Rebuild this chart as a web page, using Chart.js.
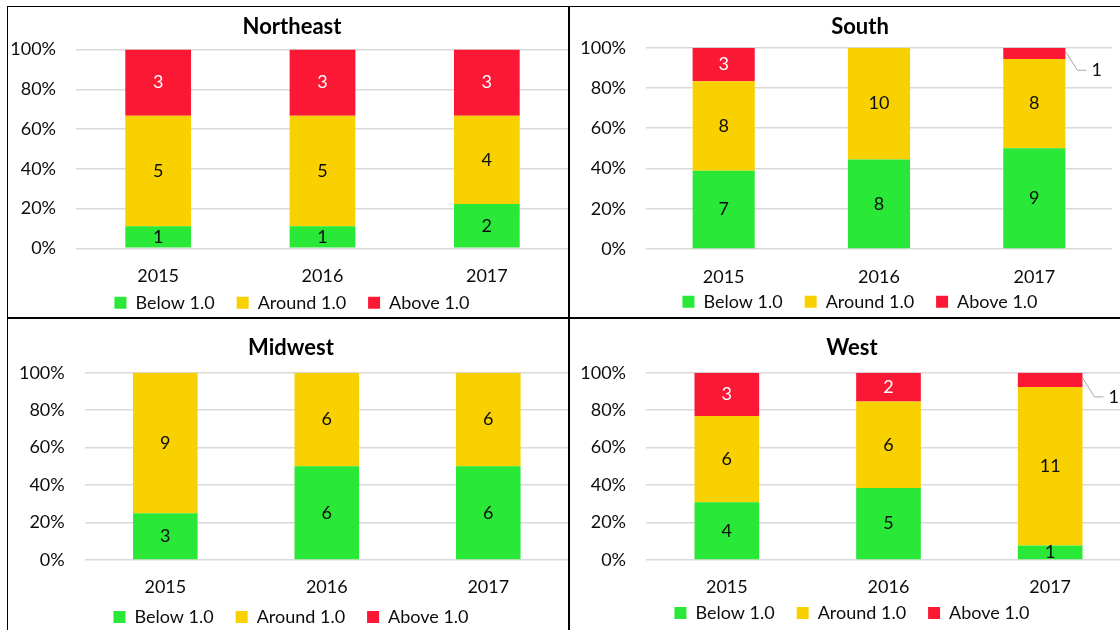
<!DOCTYPE html>
<html>
<head>
<meta charset="utf-8">
<script src="https://cdn.jsdelivr.net/npm/chart.js@4.4.0/dist/chart.umd.min.js"></script>
<style>
  html, body { margin: 0; padding: 0; background: #fff; overflow: hidden; }
  #wrap { position: relative; width: 1120px; height: 630px; overflow: hidden; }
  canvas { position: absolute; }
  .rule { position: absolute; background: #000; }
</style>
</head>
<body>
<div id="wrap">
  <canvas id="chartNortheast"></canvas>
  <canvas id="chartSouth"></canvas>
  <canvas id="chartMidwest"></canvas>
  <canvas id="chartWest"></canvas>
  <div class="rule" style="left:7px;top:6px;width:1120px;height:1px"></div>
  <div class="rule" style="left:7px;top:6px;width:1px;height:630px"></div>
  <div class="rule" style="left:568px;top:6px;width:2px;height:630px"></div>
  <div class="rule" style="left:7px;top:317px;width:1120px;height:2px"></div>
</div>
<script>
const years = ["2015", "2016", "2017"];
const seriesNames = ["Below 1.0", "Around 1.0", "Above 1.0"];
const seriesColors = ["#2ae838", "#f9d000", "#fa1834"];
const tickValues = [0, 20, 40, 60, 80, 100];

// counts per year
const northeastBelow = [1, 1, 2];
const northeastAround = [5, 5, 4];
const northeastAbove = [3, 3, 3];

const southBelow = [7, 8, 9];
const southAround = [8, 10, 8];
const southAbove = [3, 0, 1];

const midwestBelow = [3, 6, 6];
const midwestAround = [9, 6, 6];
const midwestAbove = [0, 0, 0];

const westBelow = [4, 5, 1];
const westAround = [6, 6, 11];
const westAbove = [3, 2, 1];

Chart.defaults.font.family = "Lato";
Chart.defaults.color = "#0d0d0d";

// axis boxes are sized by hand below, so don't clip tick labels to them
Chart.Scale.prototype._computeLabelArea = function () { return undefined; };

// labels inside the segments, or outside with a leader line when the top segment is too thin
const valueLabels = {
  id: "valueLabels",
  afterDatasetsDraw(chart) {
    const ctx = chart.ctx;
    const last = chart.data.datasets.length - 1;
    ctx.save();
    ctx.font = "18px Lato";
    ctx.textBaseline = "middle";
    chart.data.datasets.forEach((ds, i) => {
      const meta = chart.getDatasetMeta(i);
      meta.data.forEach((bar, j) => {
        const n = ds.counts[j];
        if (!n) return;
        const top = Math.min(bar.y, bar.base);
        const bottom = Math.max(bar.y, bar.base);
        const mid = (top + bottom) / 2;
        if (i === last && bottom - top < 20) {
          const right = bar.x + bar.width / 2;
          ctx.strokeStyle = "#a6a6a6";
          ctx.lineWidth = 1;
          ctx.beginPath();
          ctx.moveTo(right, mid - 2);
          ctx.lineTo(right + 12, mid + 17);
          ctx.lineTo(right + 21, mid + 17);
          ctx.stroke();
          ctx.fillStyle = "#0d0d0d";
          ctx.textAlign = "left";
          ctx.fillText(String(n), right + 26, mid + 17);
        } else {
          ctx.fillStyle = i === last ? "#ffffff" : "#0d0d0d";
          ctx.textAlign = "center";
          ctx.fillText(String(n), bar.x, mid);
        }
      });
    });
    ctx.restore();
  }
};

function makePanel(id, title, below, around, above, g) {
  const canvas = document.getElementById(id);
  canvas.style.left = g.left + "px";
  canvas.style.top = g.top + "px";
  canvas.width = g.width;
  canvas.height = g.height;

  const spanLeft = 2 * g.center - g.plotR;
  const titleLH = 22 * 1.2, tickLH = 18 * 1.2, itemH = 18, legPad = 22;
  const titleTop = g.titleY - g.top - titleLH / 2;
  const titleBottom = g.plotT - g.top - titleTop - titleLH;
  const xPad = g.xLabY - g.plotB - tickLH / 2;
  const legTop = g.legY - legPad - itemH / 2;
  const xAxisH = legTop - g.plotB;
  const legH = itemH + legPad + 10;

  const counts = [below, around, above];
  const totals = years.map((y, j) => below[j] + around[j] + above[j]);

  return new Chart(canvas, {
    type: "bar",
    data: {
      labels: years,
      datasets: counts.map((c, i) => ({
        label: seriesNames[i],
        counts: c,
        data: c.map((v, j) => (v / totals[j]) * 100),
        backgroundColor: seriesColors[i],
        borderWidth: 0,
        barPercentage: 0.4,
        categoryPercentage: 1,
      })),
    },
    options: {
      responsive: false,
      animation: false,
      events: [],
      layout: {
        padding: {
          left: spanLeft - g.left,
          right: g.left + g.width - g.plotR,
          top: 0,
          bottom: g.top + g.height - legTop - legH,
        },
      },
      scales: {
        x: {
          stacked: true,
          grid: { display: false, drawTicks: false },
          border: { display: false },
          ticks: { padding: xPad, font: { size: 18 } },
          afterFit(scale) { scale.height = xAxisH; },
        },
        y: {
          stacked: true,
          min: 0,
          max: 100,
          grid: { color: "#d9d9d9", lineWidth: 1.5, drawTicks: false },
          border: { display: false },
          ticks: { padding: g.plotL - g.yLabR, font: { size: 18 }, callback: (v) => v + "%" },
          afterBuildTicks(scale) { scale.ticks = tickValues.map((v) => ({ value: v })); },
          afterFit(scale) { scale.width = g.plotL - spanLeft; },
        },
      },
      plugins: {
        title: {
          display: true,
          text: title,
          color: "#000",
          font: { size: 22, weight: "bold" },
          padding: { top: titleTop, bottom: titleBottom },
        },
        legend: {
          position: "bottom",
          labels: { boxWidth: 12, boxHeight: 12, padding: legPad, font: { size: 18 } },
        },
        tooltip: { enabled: false },
      },
    },
    plugins: [valueLabels],
  });
}

makePanel("chartNortheast", "Northeast", northeastBelow, northeastAround, northeastAbove,
  { left: 8, top: 7, width: 561, height: 330, center: 292,
    plotL: 76, plotR: 569, plotT: 49.5, plotB: 248.3, yLabR: 56, titleY: 26.7, xLabY: 276, legY: 302.7 });

makePanel("chartSouth", "South", southBelow, southAround, southAbove,
  { left: 571, top: 7, width: 600, height: 330, center: 860,
    plotL: 646, plotR: 1112, plotT: 47.7, plotB: 249, yLabR: 626, titleY: 27, xLabY: 277, legY: 301.7 });

makePanel("chartMidwest", "Midwest", midwestBelow, midwestAround, midwestAbove,
  { left: 8, top: 319, width: 561, height: 340, center: 291,
    plotL: 84.6, plotR: 569.3, plotT: 372.7, plotB: 560, yLabR: 64.7, titleY: 348, xLabY: 587, legY: 617 });

makePanel("chartWest", "West", westBelow, westAround, westAbove,
  { left: 571, top: 319, width: 600, height: 340, center: 852,
    plotL: 646, plotR: 1131, plotT: 372.7, plotB: 560, yLabR: 626, titleY: 348, xLabY: 587, legY: 613 });
</script>
</body>
</html>
